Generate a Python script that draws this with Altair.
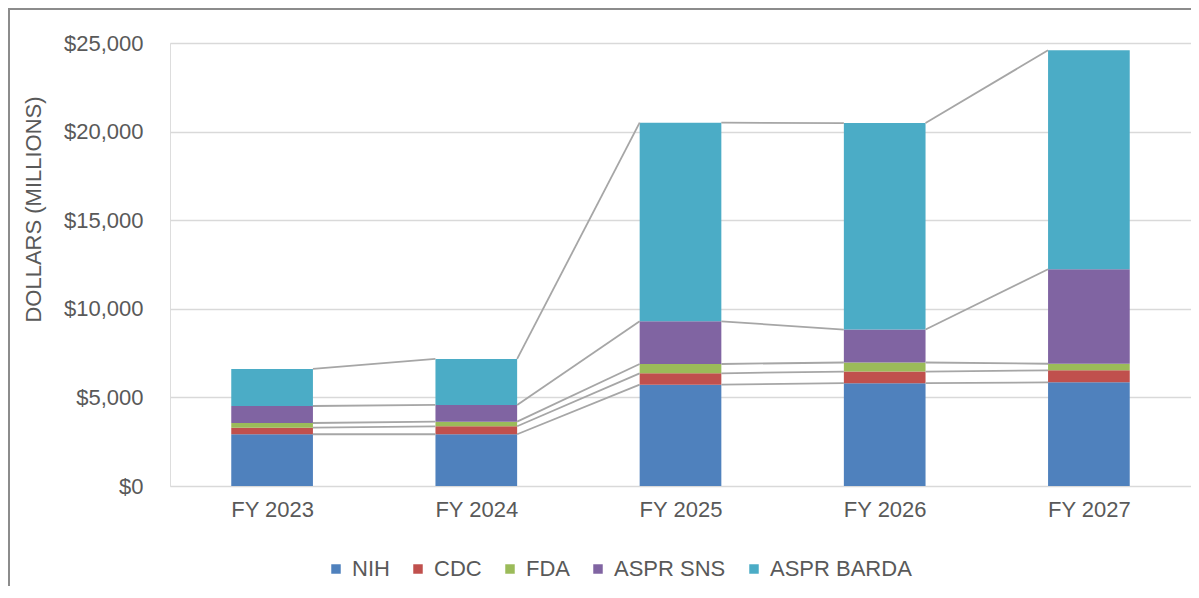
import altair as alt
import pandas as pd

years = ["FY 2023", "FY 2024", "FY 2025", "FY 2026", "FY 2027"]
agencies = ["NIH", "CDC", "FDA", "ASPR SNS", "ASPR BARDA"]
colors = ["#4F81BD", "#C0504D", "#9BBB59", "#8064A2", "#4BACC6"]

nih = [2920, 2920, 5720, 5800, 5850]
cdc = [370, 450, 640, 660, 680]
fda = [265, 260, 525, 510, 370]
aspr_sns = [960, 945, 2410, 1860, 5330]
aspr_barda = [2090, 2595, 11210, 11650, 12360]

series = [nih, cdc, fda, aspr_sns, aspr_barda]
rows = []
for k, (name, vals) in enumerate(zip(agencies, series)):
    for i, v in enumerate(vals):
        rows.append({"idx": i, "year": years[i], "agency": name, "order": k, "value": v})
df = pd.DataFrame(rows)

FONT = "Liberation Sans"
TXT = "#595959"
FS = 22
HALF = 0.2  # half bar width in category units

label_expr = "[" + ",".join(f"'{y}'" for y in years) + "][datum.value]"

base = alt.Chart(df).transform_stack(
    stack="value", groupby=["idx"], as_=["y0", "y1"], sort=[alt.SortField("order")]
)

x_scale = alt.Scale(domain=[-0.5, 4.5], nice=False, zero=False)
y_scale = alt.Scale(domain=[0, 25000], nice=False)

bars = base.transform_calculate(
    xa=f"datum.idx - {HALF}", xb=f"datum.idx + {HALF}"
).mark_rect().encode(
    x=alt.X("xa:Q", scale=x_scale,
            axis=alt.Axis(values=[0, 1, 2, 3, 4], labelExpr=label_expr, title=None,
                          grid=False, ticks=False, domain=False, labelFontSize=FS,
                          labelColor=TXT, labelFont=FONT, labelPadding=13)),
    x2="xb:Q",
    y=alt.Y("y0:Q", scale=y_scale,
            axis=alt.Axis(values=[0, 5000, 10000, 15000, 20000, 25000], format="$,d",
                          title="DOLLARS (MILLIONS)", grid=True, gridColor="#d9d9d9",
                          gridWidth=1.5, ticks=False, domain=False, labelFontSize=FS,
                          labelColor=TXT, labelFont=FONT, labelPadding=27,
                          titleFont=FONT, titleFontSize=FS, titleFontWeight="normal",
                          titleColor=TXT, titleX=-137, titleY=166, titleAngle=-90,
                          titleAlign="center", titleBaseline="middle")),
    y2="y1:Q",
    color=alt.Color("agency:N", sort=agencies,
                    scale=alt.Scale(domain=agencies, range=colors),
                    legend=alt.Legend(title=None, orient="none", direction="horizontal",
                                      legendX=155, legendY=515, symbolType="square",
                                      symbolSize=90, symbolStrokeWidth=0,
                                      labelFontSize=FS, labelFont=FONT, labelColor=TXT,
                                      columnPadding=17, labelOffset=5)),
)

lines = base.transform_window(
    next_y1="lead(y1)", groupby=["agency"], sort=[alt.SortField("idx")]
).transform_filter("datum.next_y1 != null").transform_calculate(
    xa=f"datum.idx + {HALF}", xb=f"datum.idx + 1 - {HALF}"
).mark_rule(color="#a6a6a6", strokeWidth=1.8).encode(
    x=alt.X("xa:Q", scale=x_scale),
    x2="xb:Q",
    y=alt.Y("y1:Q", scale=y_scale),
    y2="next_y1:Q",
)

frame = alt.Chart(pd.DataFrame({"a": [0]})).mark_rect(
    fill=None, stroke="#8c8c8c", strokeWidth=2
).encode(
    x=alt.value(-161), y=alt.value(-34), x2=alt.value(1200), y2=alt.value(700)
)

chart = alt.layer(frame, bars, lines).properties(
    width=1021, height=443,
    autosize=alt.AutoSizeParams(type="none"),
    padding={"left": 162, "top": 35, "right": 0, "bottom": 100},
).configure_view(stroke=None).configure(font=FONT)

chart.save("out.html", embed_options={"renderer": "svg", "actions": False})
